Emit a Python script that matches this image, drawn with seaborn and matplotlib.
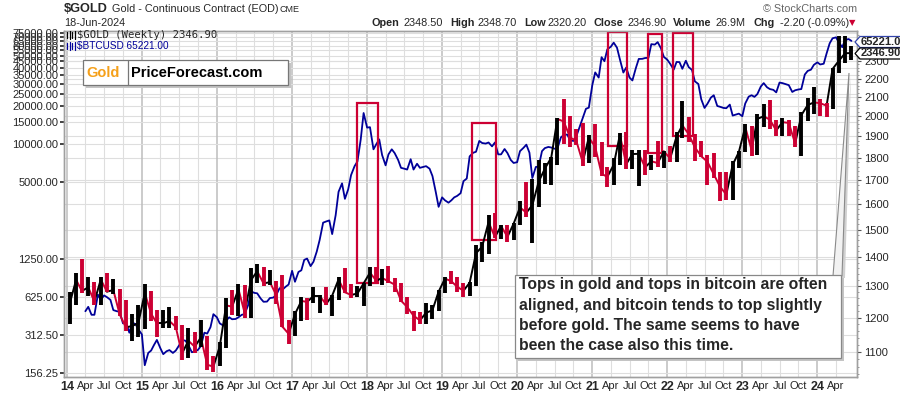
import numpy as np
import pandas as pd
import matplotlib
matplotlib.use('Agg')
import matplotlib.pyplot as plt
import matplotlib.dates as mdates
import matplotlib.ticker as mticker
from matplotlib.patches import Rectangle, Polygon
from matplotlib.lines import Line2D
import seaborn as sns

# Gold continuous contract, monthly bars Jan 2014 - Jun 2024
gold_months = pd.date_range('2014-01-01', '2024-06-01', freq='MS')
gold_close = [1244, 1321, 1284, 1296, 1250, 1322, 1282, 1287, 1210, 1171, 1175, 1184,
              1278, 1212, 1183, 1183, 1190, 1172, 1095, 1132, 1115, 1141, 1065, 1060,
              1116, 1238, 1234, 1290, 1215, 1320, 1350, 1309, 1313, 1272, 1173, 1152,
              1211, 1252, 1249, 1268, 1268, 1242, 1269, 1322, 1280, 1271, 1276, 1309,
              1345, 1318, 1327, 1316, 1305, 1253, 1233, 1206, 1192, 1215, 1223, 1282,
              1325, 1316, 1298, 1285, 1311, 1413, 1437, 1529, 1472, 1514, 1473, 1523,
              1587, 1566, 1596, 1694, 1751, 1800, 1986, 1973, 1895, 1879, 1780, 1895,
              1850, 1728, 1715, 1768, 1907, 1771, 1817, 1818, 1757, 1784, 1776, 1829,
              1797, 1900, 1954, 1911, 1848, 1807, 1782, 1726, 1672, 1640, 1768, 1826,
              1946, 1836, 1986, 2000, 1982, 1929, 1970, 1966, 1866, 2005, 2057, 2071,
              2067, 2054, 2254, 2302, 2346, 2347]
gold_high = [1280, 1345, 1392, 1331, 1315, 1332, 1345, 1324, 1290, 1256, 1210, 1240,
             1307, 1285, 1224, 1224, 1232, 1205, 1178, 1170, 1157, 1192, 1146, 1088,
             1128, 1263, 1287, 1306, 1305, 1362, 1375, 1365, 1353, 1318, 1337, 1193,
             1222, 1264, 1263, 1297, 1272, 1297, 1272, 1331, 1362, 1307, 1300, 1310,
             1366, 1366, 1357, 1369, 1326, 1310, 1265, 1221, 1216, 1246, 1240, 1287,
             1331, 1350, 1329, 1311, 1312, 1443, 1453, 1555, 1566, 1519, 1519, 1525,
             1612, 1691, 1704, 1788, 1775, 1802, 1992, 2089, 2000, 1935, 1965, 1906,
             1962, 1875, 1758, 1799, 1917, 1919, 1834, 1834, 1837, 1814, 1877, 1831,
             1853, 1919, 2079, 1998, 1910, 1879, 1814, 1824, 1735, 1735, 1786, 1833,
             1959, 1949, 2009, 2063, 2085, 1983, 1990, 1980, 1953, 2019, 2095, 2152,
             2087, 2068, 2260, 2448, 2450, 2390]
gold_low = [1182, 1240, 1277, 1268, 1240, 1240, 1281, 1273, 1205, 1161, 1131, 1142,
            1167, 1191, 1142, 1170, 1170, 1162, 1077, 1083, 1098, 1113, 1052, 1046,
            1062, 1110, 1208, 1206, 1200, 1200, 1310, 1302, 1305, 1241, 1171, 1123,
            1146, 1190, 1194, 1245, 1214, 1239, 1204, 1256, 1276, 1260, 1264, 1237,
            1302, 1307, 1303, 1310, 1282, 1250, 1211, 1160, 1180, 1182, 1196, 1221,
            1277, 1307, 1281, 1266, 1267, 1301, 1383, 1412, 1470, 1466, 1453, 1462,
            1518, 1547, 1451, 1590, 1682, 1678, 1768, 1863, 1849, 1859, 1764, 1776,
            1802, 1717, 1673, 1678, 1766, 1750, 1750, 1677, 1721, 1745, 1758, 1753,
            1780, 1780, 1890, 1872, 1787, 1805, 1678, 1710, 1615, 1618, 1617, 1754,
            1826, 1810, 1811, 1945, 1935, 1900, 1903, 1904, 1848, 1810, 1976, 2010,
            2002, 1996, 2039, 2229, 2286, 2306]

# BTCUSD, twice a month (1st / 15th), Apr 2014 - Jun 2024
btc_dates = pd.date_range('2014-04-01', '2024-06-15', freq='SMS')
btc_close = [480, 520, 450, 450, 650, 590, 640, 620, 590, 490, 480, 475, 385, 395, 325, 390, 380, 345,
             315, 180, 225, 235, 260, 285, 245, 220, 232, 237, 225, 235, 258, 285, 281, 260, 228, 230, 238, 255, 325, 320, 360, 455,
             430, 385, 370, 405, 430, 415, 417, 430, 450, 455, 535, 690, 670, 665, 605, 570, 572, 610, 615, 640, 730, 710, 750, 780,
             1000, 820, 980, 1010, 1220, 1250, 1090, 1180, 1420, 1750, 2400, 2450, 2500, 1950, 2750, 4200, 4900, 3700, 4400, 5700, 6700, 7300, 10900, 17600,
             13500, 13600, 9100, 10000, 10900, 8200, 6800, 8300, 9100, 8500, 7500, 6500, 6400, 6300, 7600, 6300, 7000, 6500, 6600, 6700, 6400, 5600, 4200, 3200,
             3800, 3600, 3450, 3600, 3800, 3900, 4100, 5100, 5350, 8000, 8550, 8700, 10600, 10200, 10100, 10300, 9600, 10300, 8300, 8300, 9150, 8500, 7500, 7100,
             7200, 8800, 9350, 9900, 8550, 5400, 6600, 6650, 8800, 9300, 9500, 9400, 9200, 9200, 11300, 11800, 11900, 10700, 10600, 11500, 13800, 16000, 19000, 19400,
             29300, 36800, 33500, 48500, 45100, 56000, 58700, 63200, 57700, 46800, 36700, 40200, 33500, 31800, 39900, 47000, 47100, 47800, 48000, 61500, 61000, 63800, 57000, 48800,
             46300, 43000, 38700, 44500, 44400, 39300, 45500, 40500, 38500, 31300, 29800, 22600, 19300, 20800, 23300, 24300, 20000, 19700, 19300, 19200, 20500, 16800, 17100, 17400,
             16600, 20900, 23700, 24300, 23600, 24800, 28500, 30300, 28100, 27200, 26800, 25600, 30600, 30300, 29700, 29200, 25800, 26600, 27000, 27200, 35400, 37800, 38700, 42200,
             44200, 42500, 43100, 51900, 62400, 68400, 69600, 63400, 58200, 66200, 67500, 65221]

btc_ticks = [156.25, 312.5, 625, 1250, 5000, 10000, 15000, 20000, 25000, 30000, 35000,
             40000, 45000, 50000, 55000, 60000, 65000, 70000, 75000]
gold_ticks = [1100, 1200, 1300, 1400, 1500, 1600, 1700, 1800, 1900, 2000, 2100, 2200, 2300]

# boxes drawn around the tops: (start, end, btc low, btc high)
top_boxes = [('2017-11-11', '2018-02-21', 806, 21240),
             ('2019-05-25', '2019-09-20', 1752, 14600),
             ('2021-03-17', '2021-06-19', 9610, 76700),
             ('2021-09-30', '2021-12-08', 8466, 74400),
             ('2022-01-31', '2022-05-08', 11530, 75800)]

note = ("Tops in gold and tops in bitcoin are often\n"
        "aligned, and bitcoin tends to top slightly\n"
        "before gold. The same seems to have\n"
        "been the case also this time.")

sns.set_style('white')
plt.rcParams['font.family'] = ['Liberation Sans', 'DejaVu Sans']

RED = '#cc0033'
BLUE = '#000099'
GRID = '#dedede'

W, H = 900, 396
def fx(px):
    return px / W
def fy(py):
    return 1 - py / H

fig = plt.figure(figsize=(9, 3.96), dpi=100)
ax = fig.add_axes([fx(64), fy(377), (857 - 64) / W, (377 - 31) / H])
ax2 = ax.twinx()

btc_lim = (145.3, 78100)
gold_lim = (1032.5, 2482)
x_lim = (pd.Timestamp('2013-12-18'), pd.Timestamp('2024-07-12'))

# BTC line on the left log axis
sns.lineplot(x=btc_dates, y=btc_close, ax=ax, color=BLUE, lw=1.3)
ax.set_yscale('log')

# gold bars on the right log axis, close-to-close path underneath
gold_pos = gold_months + pd.Timedelta(days=14)
prev = [gold_close[0]] + gold_close[:-1]
gold_cols = ['black' if c >= p else RED for c, p in zip(gold_close, prev)]
for i in range(1, len(gold_close)):
    ax2.plot(gold_pos[i - 1:i + 1], gold_close[i - 1:i + 1], color=gold_cols[i], lw=1.4)
ax2.vlines(gold_pos, gold_low, gold_high, colors=gold_cols, lw=2.8)
ax2.set_yscale('log')

# gridlines (gold levels mapped onto the BTC axis so they sit under the lines)
span_g = np.log(gold_lim[1] / gold_lim[0])
for g in gold_ticks:
    f = np.log(g / gold_lim[0]) / span_g
    ax.axhline(btc_lim[0] * (btc_lim[1] / btc_lim[0]) ** f, color=GRID, lw=0.8, zorder=0)
ax.grid(which='major', axis='y', color=GRID, lw=0.8)
ax.grid(which='major', axis='x', color='#bdbdbd', lw=1.1)
ax.grid(which='minor', axis='x', color=GRID, lw=0.8)
ax.set_axisbelow(True)

# top boxes
for start, end, lo, hi in top_boxes:
    x0 = mdates.date2num(pd.Timestamp(start))
    x1 = mdates.date2num(pd.Timestamp(end))
    ax.add_patch(Rectangle((x0, lo), x1 - x0, hi - lo, fill=False, ec=RED, lw=1.6, zorder=4))

ax.set_xlim(x_lim)
ax.set_ylim(btc_lim)
ax2.set_ylim(gold_lim)

# axes formatting
ax.yaxis.set_major_locator(mticker.FixedLocator(btc_ticks))
ax.yaxis.set_minor_locator(mticker.NullLocator())
ax.yaxis.set_major_formatter(mticker.FuncFormatter(lambda v, p: f'{v:.2f}'))
ax.tick_params(axis='y', length=3, width=1.2, color='#222222', labelsize=8, pad=1)
ax2.yaxis.set_major_locator(mticker.FixedLocator(gold_ticks))
ax2.yaxis.set_minor_locator(mticker.FixedLocator(range(1040, 2480, 20)))
ax2.yaxis.set_major_formatter(mticker.FuncFormatter(lambda v, p: f'{v:.0f}'))
ax2.yaxis.set_minor_formatter(mticker.NullFormatter())
ax2.tick_params(axis='y', which='major', length=3, color='#555555', labelsize=8, pad=2)
ax2.tick_params(axis='y', which='minor', length=1.5, color='#888888')

quarter_ticks = [d for d in pd.date_range('2014-04-01', '2024-04-01', freq='MS') if d.month in (4, 7, 10)]
ax.xaxis.set_major_locator(mdates.YearLocator())
ax.xaxis.set_major_formatter(mdates.DateFormatter('%y'))
ax.xaxis.set_minor_locator(mticker.FixedLocator(mdates.date2num(quarter_ticks)))
ax.xaxis.set_minor_formatter(mdates.DateFormatter('%b'))
ax.tick_params(axis='x', which='both', length=0, pad=3, labelsize=8)
for lbl in ax.get_xticklabels():
    lbl.set_fontweight('bold')
    lbl.set_fontsize(9)
ax.set_xlabel('')
ax.set_ylabel('')
ax2.set_ylabel('')
for a in (ax, ax2):
    for s in a.spines.values():
        s.set_color('#a0a0a0')
        s.set_linewidth(1)

# header
fig.text(fx(64), fy(9), '$GOLD', fontsize=9.2, fontweight='bold', va='center')
fig.text(fx(112), fy(9), 'Gold - Continuous Contract (EOD)', fontsize=7.8, va='center')
fig.text(fx(280), fy(9.5), 'CME', fontsize=6.5, va='center')
fig.text(fx(64), fy(22.5), '18-Jun-2024', fontsize=7.8, va='center')
fig.text(fx(857), fy(8.5), '\u00a9 StockCharts.com', fontsize=7.8, color='#666666', va='center', ha='right')
quote = [(372, 'Open', True), (404, '2348.50', False), (450, 'High', True), (478, '2348.70', False),
         (524, 'Low', True), (547, '2320.20', False), (593, 'Close', True), (627, '2346.90', False),
         (673, 'Volume', True), (716, '26.9M', False), (754, 'Chg', True), (780, '-2.20 (-0.09%)', False)]
for px, s, b in quote:
    fig.text(fx(px), fy(22.5), s, fontsize=7.8, fontweight='bold' if b else 'normal', va='center')
fig.text(fx(849), fy(22.5), '\u25bc', fontsize=6, color=RED, va='center', family=['DejaVu Sans'])

# in-plot legend
fig.text(fx(77), fy(35), '$GOLD (Weekly) 2346.90', fontsize=7.6, family=['DejaVu Sans Mono'], va='center')
fig.text(fx(77), fy(45.5), '$BTCUSD 65221.00', fontsize=7.2, color=BLUE, va='center')
for yy, c in ((35, 'black'), (45.5, BLUE)):
    for dx, h in ((67, 3), (69.5, 4), (72, 3), (74.5, 4)):
        fig.add_artist(Line2D([fx(dx), fx(dx)], [fy(yy - h), fy(yy + h)], color=c, lw=0.9))

# logo box
fig.add_artist(Rectangle((fx(86), fy(88)), 205 / W, 25 / H, fc='#c4c4c4', ec='none', transform=fig.transFigure))
fig.add_artist(Rectangle((fx(83), fy(85)), 205 / W, 25 / H, fc='white', ec='#777777', lw=0.9, transform=fig.transFigure))
fig.add_artist(Line2D([fx(128), fx(128)], [fy(85), fy(60)], color='#777777', lw=0.9))
fig.text(fx(86), fy(73), 'Gold', fontsize=10.5, fontweight='bold', color='#f5a01a', va='center')
fig.text(fx(131), fy(73), 'PriceForecast.com', fontsize=10.5, fontweight='bold', color='black', va='center')

# last-value tags on the right
for yc, s, ec in ((42, '65221.00', '#3344aa'), (53.5, '2346.90', 'black')):
    pts = [(855, yc), (860, yc - 5.5), (902, yc - 5.5), (902, yc + 5.5), (860, yc + 5.5)]
    fig.add_artist(Polygon([(fx(a), fy(b)) for a, b in pts], closed=True, fc='white', ec=ec, lw=0.9,
                           transform=fig.transFigure))
    fig.text(fx(861), fy(yc), s, fontsize=8, fontweight='bold', va='center')

# callout
fig.add_artist(Polygon([(fx(836), fy(278)), (fx(845), fy(278)), (fx(851), fy(76))], closed=True,
                       fc='#d0d0d0', ec='none', transform=fig.transFigure))
fig.add_artist(Polygon([(fx(833), fy(276)), (fx(842), fy(276)), (fx(849), fy(73))], closed=True,
                       fc='#f2f2f2', ec='#8a8a8a', lw=0.8, transform=fig.transFigure))
fig.add_artist(Rectangle((fx(518), fy(361)), 326 / W, 83 / H, fc='#c4c4c4', ec='none', transform=fig.transFigure))
fig.add_artist(Rectangle((fx(515), fy(358)), 326 / W, 83 / H, fc='white', ec='#888888', lw=0.9, transform=fig.transFigure))
fig.text(fx(519), fy(277.5), note, fontsize=11.3, fontweight='bold', va='top', ha='left', linespacing=1.42)

fig.savefig('out.png', dpi=100)
